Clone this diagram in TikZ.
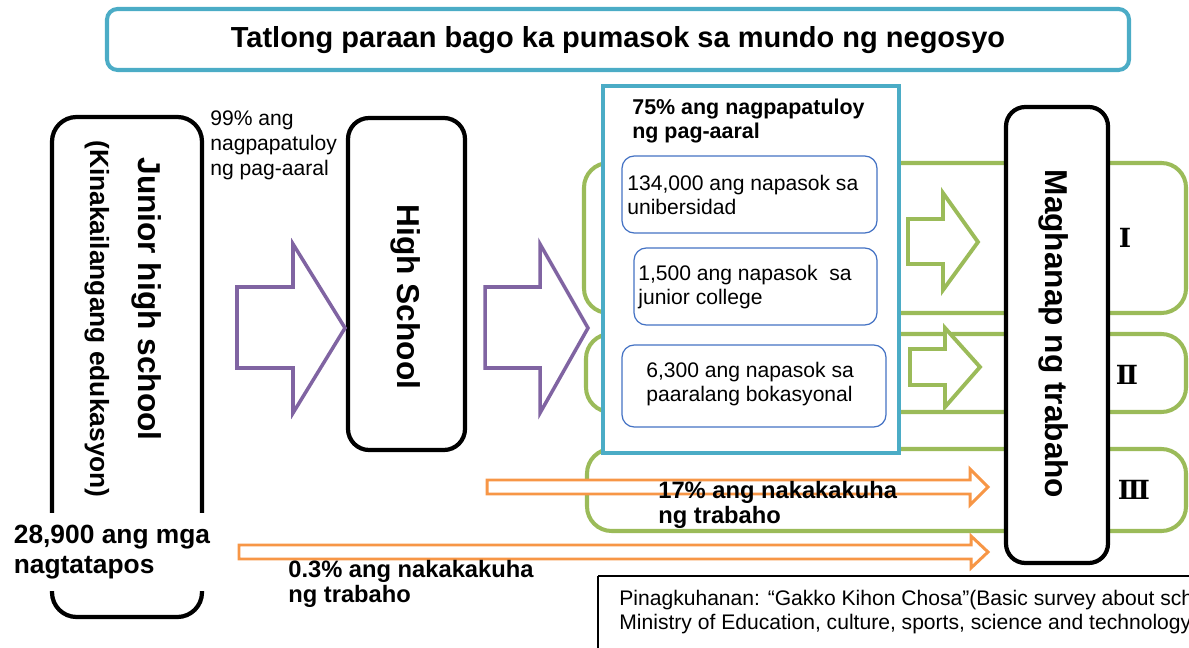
\documentclass[tikz,border=0pt]{standalone}
\usepackage{fontspec}
\setmainfont{Liberation Sans}
\newfontfamily\romfont{DejaVu Serif}

\begin{document}
\begin{tikzpicture}[x=0.02cm,y=-0.02cm,
    bluebox/.style={draw=cyanline,line width=2.3pt},
    greenbox/.style={draw=greenline,line width=2.3pt,rounded corners=14pt},
    blackbox/.style={draw=black,line width=2.4pt,fill=white},
    smallbox/.style={draw=innerblue,line width=0.7pt,rounded corners=7pt,fill=white},
    purplearrow/.style={draw=purpleline,line width=2pt,fill=white},
    greenarrow/.style={draw=greenline,line width=2.2pt,fill=white},
    orangearrow/.style={draw=orangeline,line width=1.7pt,fill=white},
    txt/.style={inner sep=0pt,anchor=west,align=left},
    sidetxt/.style={inner sep=0pt,rotate=-90},
    waytxt/.style={inner sep=0pt,font=\fontsize{15}{17}\selectfont\romfont\bfseries}]
    \definecolor{cyanline}{HTML}{4BACC6}
    \definecolor{greenline}{HTML}{9BBB59}
    \definecolor{purpleline}{HTML}{8064A2}
    \definecolor{orangeline}{HTML}{F79646}
    \definecolor{innerblue}{HTML}{4472C4}

    \useasboundingbox (0,0) rectangle (1189,648);

    % title
    \draw[bluebox,rounded corners=6pt] (107,9) rectangle (1129,70);
    \node[inner sep=0pt,font=\fontsize{16.5}{19}\selectfont\bfseries] (title) at (618,40) {Tatlong paraan bago ka pumasok sa mundo ng negosyo};

    % three ways
    \draw[greenbox] (584,163) rectangle (1186,313);
    \draw[greenbox] (586,334) rectangle (1186,412);
    \draw[greenbox] (587,449) rectangle (1186,531);

    % 75% box
    \draw[bluebox,fill=white] (603,86) rectangle (899,453);
    \draw[smallbox] (622,156) rectangle (877,233);
    \draw[smallbox] (634,248) rectangle (877,325);
    \draw[smallbox] (622,345) rectangle (886,427);

    % boxes
    \draw[blackbox,rounded corners=14pt] (52,117) rectangle (202,617);
    \draw[blackbox,rounded corners=12pt] (348,118) rectangle (465,450);
    \draw[blackbox,rounded corners=11pt] (1006,107) rectangle (1108,563);

    % arrows
    \draw[purplearrow] (237,287) -- (293,287) -- (293,244) -- (345,328) -- (293,413) -- (293,368) -- (237,368) -- cycle;
    \draw[purplearrow] (485,287) -- (540,287) -- (540,244) -- (588,328) -- (540,413) -- (540,368) -- (485,368) -- cycle;
    \draw[greenarrow] (908,219) -- (943,219) -- (943,193) -- (978,242) -- (943,290) -- (943,264) -- (908,264) -- cycle;
    \draw[greenarrow] (910,349) -- (945,349) -- (945,328) -- (980,367) -- (945,407) -- (945,385) -- (910,385) -- cycle;
    \draw[orangearrow] (487,480) -- (970,480) -- (970,469) -- (988,487) -- (970,505) -- (970,494) -- (487,494) -- cycle;
    \draw[orangearrow] (239,545) -- (971,545) -- (971,536) -- (988,552) -- (971,568) -- (971,559) -- (239,559) -- cycle;

    % texts
    \node[sidetxt,font=\fontsize{18}{21}\selectfont\bfseries] (jhs) at (147,299) {Junior high school};
    \node[sidetxt,font=\fontsize{15}{18}\selectfont\bfseries] (jhsnote) at (97,319) {(Kinakailangang edukasyon)};
    \node[txt,fill=white,inner xsep=2pt,inner ysep=7pt,font=\fontsize{15}{17}\selectfont\bfseries] (grads) at (10,552) {28,900 ang mga\\nagtatapos};
    \node[txt,font=\fontsize{12}{14.2}\selectfont] (cont99) at (210,145) {99\% ang\\nagpapatuloy\\ng pag-aaral};
    \node[sidetxt,font=\fontsize{18}{21}\selectfont\bfseries] (hs) at (406,297) {High School};
    \node[txt,font=\fontsize{12.2}{13.6}\selectfont\bfseries] (cont75) at (632,121) {75\% ang nagpapatuloy\\ng pag-aaral};
    \node[txt,font=\fontsize{12}{14}\selectfont] (univ) at (627,195) {134,000 ang napasok sa\\unibersidad};
    \node[txt,font=\fontsize{12}{14}\selectfont] (jcoll) at (638,287) {1,500 ang napasok\ \ sa\\junior college};
    \node[txt,font=\fontsize{12}{14}\selectfont] (vocab) at (646,384) {6,300 ang napasok sa\\paaralang bokasyonal};
    \node[txt,font=\fontsize{13.5}{14.7}\selectfont\bfseries] (job17) at (658,505) {17\% ang nakakakuha\\ng trabaho};
    \node[txt,font=\fontsize{13.5}{14.7}\selectfont\bfseries] (job03) at (288,584) {0.3\% ang nakakakuha\\ng trabaho};
    \node[sidetxt,font=\fontsize{18}{21}\selectfont\bfseries] (seek) at (1054,334) {Maghanap ng trabaho};
    \node[waytxt] (wayI) at (1125,238) {Ⅰ};
    \node[waytxt] (wayII) at (1127,375) {Ⅱ};
    \node[waytxt] (wayIII) at (1134,490) {Ⅲ};

    % source
    \draw[line width=0.6pt] (598,576) -- (1195,576);
    \draw[line width=0.6pt] (598,576) -- (598,655);
    \node[txt,font=\fontsize{12}{14}\selectfont] (source) at (619,612) {Pinagkuhanan: “Gakko Kihon Chosa”(Basic survey about schools)\\Ministry of Education, culture, sports, science and technology};
\end{tikzpicture}
\end{document}
